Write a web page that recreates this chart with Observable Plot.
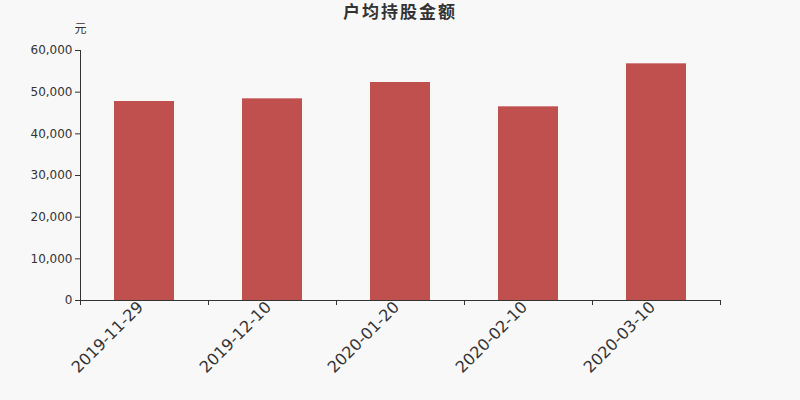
<!DOCTYPE html>
<html>
<head>
<meta charset="utf-8">
<script src="https://cdn.jsdelivr.net/npm/d3@7"></script>
<script src="https://cdn.jsdelivr.net/npm/@observablehq/plot@0.6"></script>
<style>
  html, body { margin: 0; padding: 0; background: #f8f8f8; }
  #title { height: 30px; line-height: 24px; text-align: center; font-family: "DejaVu Sans", "Noto Sans CJK SC", sans-serif; font-weight: bold; font-size: 17px; letter-spacing: 2px; color: #333; }
  #chart { width: 800px; }
</style>
</head>
<body>
<div id="title">户均持股金额</div>
<div id="chart"></div>
<script>
const dates = ["2019-11-29", "2019-12-10", "2020-01-20", "2020-02-10", "2020-03-10"];
const values = [47760, 48400, 52320, 46480, 56800];
const yTicks = [0, 10000, 20000, 30000, 40000, 50000, 60000];
const unitLabel = "元";

const data = dates.map((d, i) => ({date: d, value: values[i]}));
const fmt = d3.format(",");

const chart = Plot.plot({
  width: 800,
  height: 370,
  marginTop: 20,
  marginBottom: 100,
  marginLeft: 80,
  marginRight: 80,
  style: {background: "#f8f8f8", fontFamily: "DejaVu Sans, sans-serif", color: "#333", overflow: "visible"},
  x: {domain: dates, paddingInner: 0.53125, paddingOuter: 0.265625, label: null},
  y: {domain: [0, 60000], label: null},
  marks: [
    Plot.barY(data, {x: "date", y: "value", fill: "#c0504d"}),
    Plot.frame({anchor: "left", stroke: "#333"}),
    Plot.frame({anchor: "bottom", stroke: "#333"}),
    Plot.axisY({ticks: yTicks, tickFormat: fmt, tickSize: 5, tickPadding: 3, fontSize: 12, stroke: "#333", fill: "#333"}),
    Plot.axisX({ticks: dates, tickFormat: () => "", tickSize: 5, dx: -64, stroke: "#333"}),
    Plot.axisX({ticks: [dates[dates.length - 1]], tickFormat: () => "", tickSize: 5, dx: 64, stroke: "#333"}),
    Plot.axisX({ticks: dates, tickSize: 0, tickRotate: -45, fontSize: 16, tickPadding: 4, dx: -4, fill: "#333", textAnchor: "end"}),
    Plot.text([unitLabel], {frameAnchor: "top-left", text: d => d, dy: -26, textAnchor: "middle", fontSize: 12, fill: "#333", fontFamily: "Noto Sans CJK SC, sans-serif"})
  ]
});
document.getElementById("chart").appendChild(chart);
</script>
</body>
</html>
